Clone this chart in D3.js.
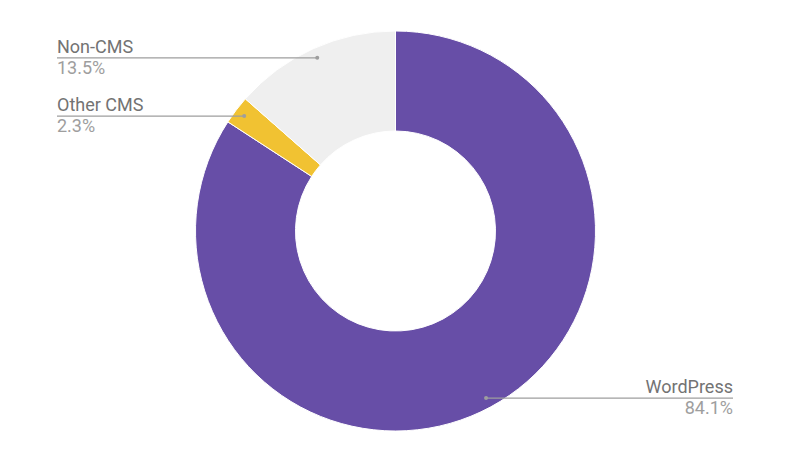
<!DOCTYPE html>
<html>
<head>
<meta charset="utf-8">
<script src="https://cdn.jsdelivr.net/npm/d3@7"></script>
<style>
  html, body { margin: 0; padding: 0; background: #fff; }
  svg { display: block; font-family: Roboto, "Noto Sans", sans-serif; }
</style>
</head>
<body>
<svg id="chart" width="800" height="453"></svg>
<script>
const categories = ["WordPress", "Other CMS", "Non-CMS"];
const values = [84.1, 2.3, 13.5];
const valueLabels = ["84.1%", "2.3%", "13.5%"];
const colors = ["#674ea7", "#f1c232", "#efefef"];
// label side: right side for WordPress, left for others
const labelSide = ["right", "left", "left"];

const svg = d3.select("#chart");
const cx = 395.5, cy = 231, rOuter = 200, rInner = 100, rDot = 190;
const g = svg.append("g").attr("transform", `translate(${cx},${cy})`);

const data = categories.map((c, i) => ({ name: c, value: values[i], label: valueLabels[i], color: colors[i], side: labelSide[i] }));
const pie = d3.pie().value(d => d.value).sort(null);
const arcs = pie(data);
const arc = d3.arc().innerRadius(rInner).outerRadius(rOuter);

g.selectAll("path.slice").data(arcs).enter().append("path")
  .attr("class", "slice")
  .attr("d", arc)
  .attr("fill", d => d.data.color)
  .attr("stroke", "#fff")
  .attr("stroke-width", 1);

const leftX = 57, rightX = 733;
arcs.forEach(a => {
  const mid = (a.startAngle + a.endAngle) / 2;
  const px = cx + rDot * Math.sin(mid);
  const py = cy - rDot * Math.cos(mid);
  const ex = a.data.side === "left" ? leftX : rightX;
  const anchor = a.data.side === "left" ? "start" : "end";
  svg.append("line").attr("x1", px).attr("y1", py).attr("x2", ex).attr("y2", py)
    .attr("stroke", "#9e9e9e").attr("stroke-width", 1.3);
  svg.append("circle").attr("cx", px).attr("cy", py).attr("r", 2).attr("fill", "#9e9e9e");
  svg.append("text").attr("x", ex).attr("y", py - 5).attr("text-anchor", anchor)
    .attr("font-size", 18).attr("fill", "#737373").text(a.data.name);
  svg.append("text").attr("x", ex).attr("y", py + 16).attr("text-anchor", anchor)
    .attr("font-size", 18).attr("fill", "#9e9e9e").text(a.data.label);
});
</script>
</body>
</html>
